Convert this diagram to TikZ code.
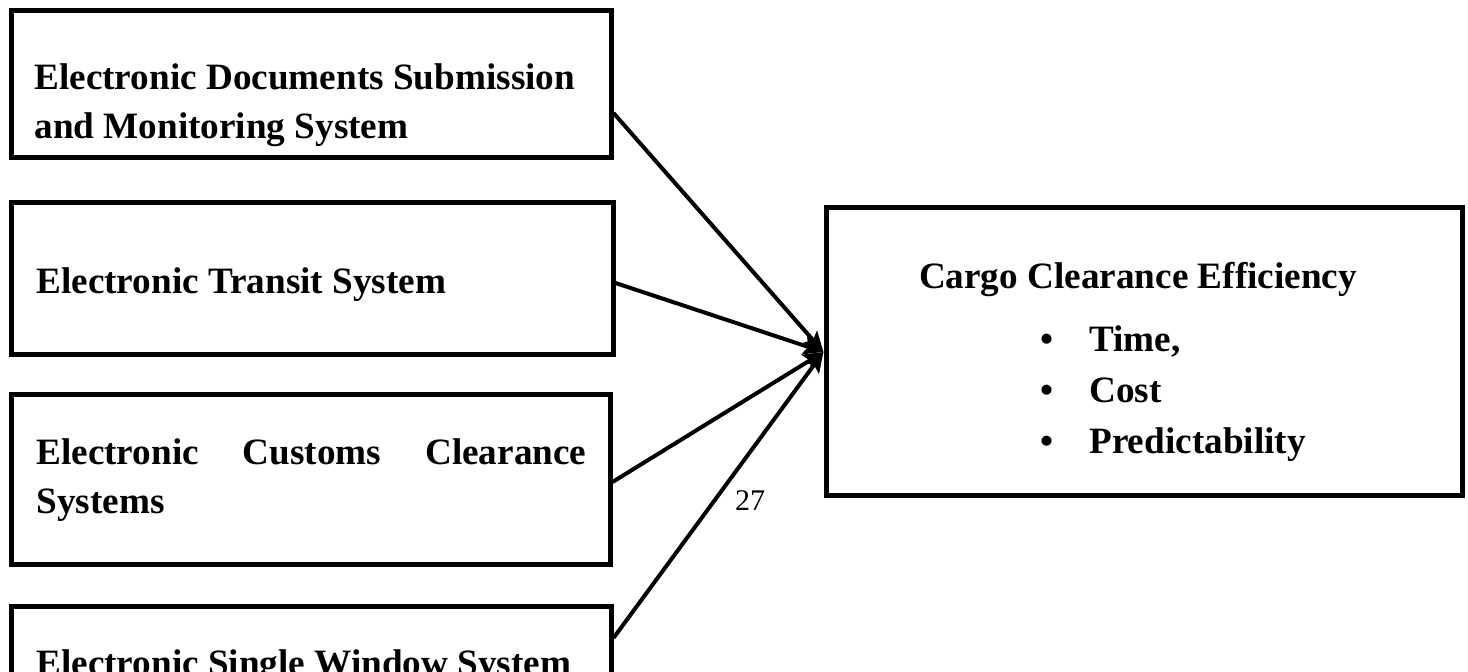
\documentclass[tikz,border=0pt]{standalone}
\usepackage{fontspec}
\setmainfont{Liberation Serif}
\usetikzlibrary{arrows.meta}
\begin{document}
\begin{tikzpicture}[x=0.5pt,y=-0.5pt,
  box/.style={draw, line width=2.5pt, inner sep=0pt, anchor=center},
  lbl/.style={anchor=base west, inner sep=0pt, font=\bfseries\fontsize{18.6}{24.5}\selectfont},
  conn/.style={line width=2pt, -{Stealth[length=10pt,width=9pt,inset=2pt]}},
  pagenum/.style={anchor=base, inner sep=0pt, font=\fontsize{15}{18}\selectfont}]
\useasboundingbox (0,0) rectangle (1468,672);
% boxes
\node[box, minimum width=300pt, minimum height=73.5pt] (b1) at (311,84.5) {};
\node[box, minimum width=301pt, minimum height=76pt] (b2) at (312,279) {};
\node[box, minimum width=299.5pt, minimum height=85pt] (b3) at (310.5,480) {};
\node[box, minimum width=300pt, minimum height=75pt] (b4) at (311,682) {};
\node[box, minimum width=318pt, minimum height=144pt] (out) at (1144,352) {};
% texts
\node[lbl] (t1) at (34,90) {\parbox[t]{290pt}{\raggedright Electronic Documents Submission\\and Monitoring System}};
\node[lbl] (t2) at (36,294) {Electronic Transit System};
\node[lbl] (t3) at (36,465) {\parbox[t]{275pt}{Electronic\hfill Customs\hfill Clearance\\Systems}};
\node[lbl] (t4) at (36,676) {Electronic Single Window System};
\node[lbl, anchor=base] (t5) at (1138,289) {Cargo Clearance Efficiency};
\node[lbl] (bu1) at (1040,352) {\textbullet};
\node[lbl] (bu2) at (1040,403) {\textbullet};
\node[lbl] (bu3) at (1040,454) {\textbullet};
\node[lbl] (i1) at (1089,352) {Time,};
\node[lbl] (i2) at (1089,403) {Cost};
\node[lbl] (i3) at (1089,454) {Predictability};
\node[pagenum] (pn) at (750,511) {27};
% connectors
\draw[conn] ([yshift=-14.25pt]b1.east) -- (out.west);
\draw[conn] ([yshift=-2pt]b2.east) -- (out.west);
\draw[conn] ([yshift=-1pt]b3.east) -- (out.west);
\draw[conn] ([yshift=22pt]b4.east) -- (out.west);
\end{tikzpicture}
\end{document}
